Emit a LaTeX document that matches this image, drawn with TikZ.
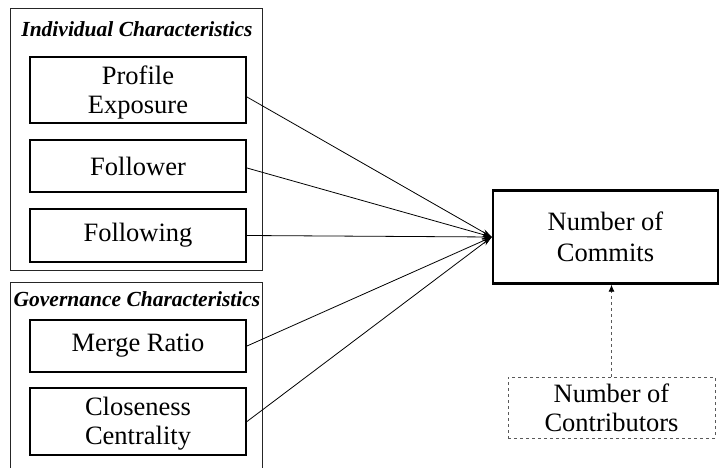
\documentclass[tikz,border=0pt]{standalone}
\usepackage{fontspec}
\setmainfont{Liberation Serif}
\usetikzlibrary{arrows.meta}
\newcommand{\lowtwo}[2]{\raisebox{-3pt}[\height][\depth]{\begin{tabular}{@{}c@{}}#1\\#2\end{tabular}}}
\begin{document}
\begin{tikzpicture}[x=1pt,y=-1pt,
  group/.style={draw=black!85,line width=0.9pt},
  var/.style={draw=black,line width=2pt,minimum width=216pt,align=center,inner sep=0pt,font=\fontsize{26.5}{29}\selectfont},
  dep/.style={draw=black,line width=2.4pt,minimum width=225pt,minimum height=93pt,align=center,inner sep=0pt,font=\fontsize{26.5}{31}\selectfont},
  ctrl/.style={draw=black!65,dashed,line width=1pt,minimum width=207pt,minimum height=61pt,align=center,inner sep=0pt,font=\fontsize{26.5}{29}\selectfont},
  gtitle/.style={font=\fontsize{21.5}{24}\selectfont\bfseries\itshape},
  link/.style={line width=0.8pt,-{Stealth[length=10pt,width=6pt]}},
  clink/.style={line width=0.9pt,dashed,draw=black!65,-{Latex[length=7pt,width=6pt,black]}}]
\useasboundingbox (0,0) rectangle (720,468);
\fill[white] (0,0) rectangle (720,468);
% group boxes
\draw[group] (10,8) rectangle (262,270);
\draw[group] (10,282) -- (10,470) (262,470) -- (262,282) -- (10,282);
\node[gtitle] (t1) at (137,29) {Individual Characteristics};
\node[gtitle] (t2) at (137,299) {Governance Characteristics};
% variables
\node[var,minimum height=66pt] (pe) at (138,90) {\lowtwo{Profile}{Exposure}};
\node[var,minimum height=52pt] (fr) at (138,166) {Follower};
\node[var,minimum height=53pt] (fg) at (138,235.5) {Following};
\node[var,minimum height=52pt] (mr) at (138,346) {Merge Ratio};
\node[var,minimum height=67pt] (cc) at (138,421.5) {\lowtwo{Closeness}{Centrality}};
\node[dep] (nc) at (605.5,237) {Number of\\Commits};
\node[ctrl] (nco) at (611.5,407.5) {Number of\\Contributors};
\coordinate (in) at (nc.west);
% links
\draw[link] (pe.east |- 0,97) -- (in);
\draw[link] (fr.east |- 0,168) -- (in);
\draw[link] (fg.east) -- (in);
\draw[link] (mr.east) -- (in);
\draw[link] (cc.east) -- (in);
\draw[clink] (nco.north) -- (nco.north |- nc.south);
\end{tikzpicture}
\end{document}
